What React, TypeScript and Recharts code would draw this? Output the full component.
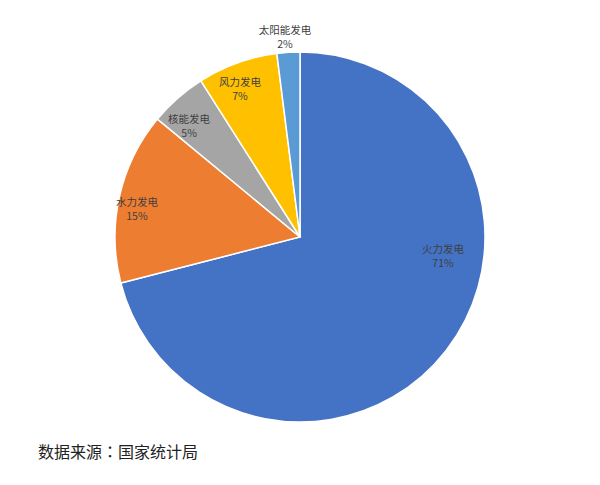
import { PieChart, Pie, Cell } from 'recharts'

const sources = ['火力发电', '水力发电', '核能发电', '风力发电', '太阳能发电']
const shares = [71, 15, 5, 7, 2]

const colors = ['#4472C4', '#ED7D31', '#A5A5A5', '#FFC000', '#5B9BD5']

const data = sources.map((name, i) => ({ name, value: shares[i] }))

const RAD = Math.PI / 180

// label radius (fraction of outer radius) and angle, per slice (Excel best-fit placement)
const labelPlace = [
  { k: 0.78, angle: -7.6 },
  { k: 0.894, angle: 170.3 },
  { k: 0.848, angle: 135 },
  { k: 0.863, angle: 112.1 },
  { k: 1.084, angle: 94.3 },
]

const renderLabel = (props: any) => {
  const { cx, cy, midAngle, outerRadius, index, name, value } = props
  const place = labelPlace[index]
  const a = place.angle ?? midAngle
  const r = outerRadius * place.k
  const x = cx + r * Math.cos(-a * RAD)
  const y = cy + r * Math.sin(-a * RAD)
  return (
    <text
      x={x}
      y={y}
      textAnchor="middle"
      fill="#404040"
      fontSize={10.5}
      fontFamily="'Noto Sans CJK SC', sans-serif"
    >
      <tspan x={x} dy={-3}>{name}</tspan>
      <tspan x={x} dy={14}>{value}%</tspan>
    </text>
  )
}

export default function App() {
  return (
    <div style={{ position: 'absolute', left: 0, top: 0, width: 600, height: 485, background: '#fff' }}>
      <PieChart width={600} height={485} margin={{ top: 0, right: 0, bottom: 0, left: 0 }}>
        <Pie
          data={data}
          dataKey="value"
          nameKey="name"
          cx={300}
          cy={237}
          outerRadius={185}
          startAngle={90}
          endAngle={-270}
          stroke="#ffffff"
          strokeWidth={1.5}
          label={renderLabel}
          labelLine={false}
          isAnimationActive={false}
        >
          {data.map((d, i) => (
            <Cell key={d.name} fill={colors[i]} />
          ))}
        </Pie>
      </PieChart>
      <div
        style={{
          position: 'absolute',
          left: 38,
          top: 439,
          fontSize: 16,
          color: '#222',
          fontFamily: "'Noto Sans CJK SC', sans-serif",
          fontWeight: 400,
        }}
      >
        数据来源<span style={{ fontFamily: "'Noto Sans CJK TC', sans-serif" }}>：</span>国家统计局
      </div>
    </div>
  )
}
